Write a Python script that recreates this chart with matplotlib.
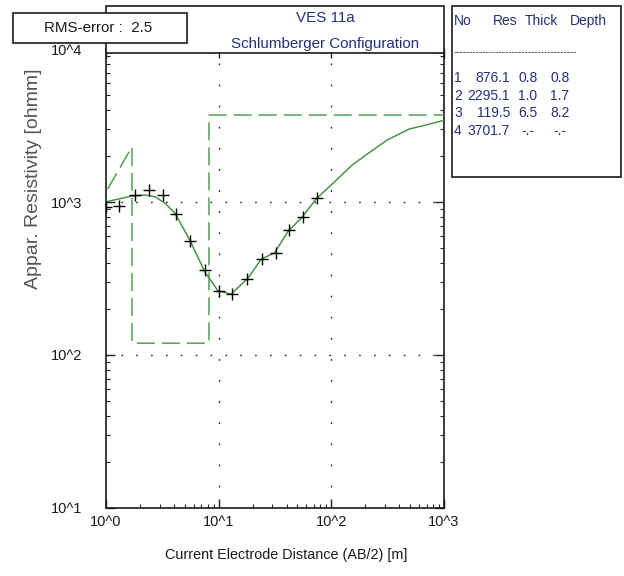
import matplotlib.pyplot as plt
import numpy as np
from matplotlib.patches import Rectangle
from matplotlib.ticker import FixedLocator, LogLocator, NullFormatter

plt.rcParams['font.family'] = ['Liberation Sans', 'DejaVu Sans']

# measured sounding (AB/2 in m, apparent resistivity in ohmm)
ab2 = [1.0, 1.3, 1.8, 2.4, 3.2, 4.2, 5.6, 7.5, 10, 13, 18, 24, 32, 42, 56, 75]
rho_obs = [927, 942, 1111, 1198, 1111, 835, 556, 360, 262, 250, 314, 424, 464, 656, 798, 1062]

# fitted curve
fit_x = [1.0, 1.38, 1.69, 2.21, 2.71, 3.33, 4.08, 5.54, 7.52, 9.85, 12.9, 18.2,
         23.9, 31.2, 41.6, 54.3, 73.2, 99.4, 153, 203, 313, 490, 638, 1000]
fit_rho = [1004, 1057, 1094, 1111, 1083, 985, 847, 565, 350, 263, 250, 318,
           424, 464, 649, 786, 1046, 1291, 1745, 2029, 2541, 3000, 3140, 3420]

# layer model
layer_no = [1, 2, 3, 4]
layer_res = [876.1, 2295.1, 119.5, 3701.7]
layer_thick = [0.8, 1.0, 6.5, None]
layer_depth = [0.8, 1.7, 8.2, None]

blue = '#24307c'
fs = 10.4
tfs = 10

fig = plt.figure(figsize=(6.24, 5.76), dpi=100)
ax = fig.add_axes([0.1699, 0.1181, 0.5417, 0.7968])
ax.set_xscale('log')
ax.set_yscale('log')
ax.set_xlim(1, 1000)
ax.set_ylim(10, 10000)

# model step line (drawn the way the program does it)
mx = [layer_depth[0], layer_depth[1], layer_depth[1], layer_depth[2], layer_depth[2], 5000]
my = [layer_res[0], layer_res[1], layer_res[2], layer_res[2], layer_res[3], layer_res[3]]
ax.plot(mx, my, color='#3f9a3f', lw=1.0, dashes=(13, 5), zorder=3)

ax.plot(fit_x, fit_rho, color='#4a944a', lw=1.1, zorder=4)
ax.plot(ab2, rho_obs, ls='none', marker='+', ms=9, mew=1.0, color='black', zorder=5)

# grid at decades only
for v in [10, 100]:
    ax.axvline(v, color='#222222', lw=1.0, ls=(0, (1.2, 14)), zorder=1)
for v in [100, 1000]:
    ax.axhline(v, color='#222222', lw=1.0, ls=(0, (1.2, 9.5)), zorder=1)

ax.xaxis.set_major_locator(FixedLocator([1, 10, 100, 1000]))
ax.set_xticklabels(['10^0', '10^1', '10^2', '10^3'])
ax.yaxis.set_major_locator(FixedLocator([10, 100, 1000, 10000]))
ax.set_yticklabels(['10^1', '10^2', '10^3', '10^4'])
ax.xaxis.set_minor_locator(LogLocator(base=10, subs=np.arange(2, 10)))
ax.yaxis.set_minor_locator(LogLocator(base=10, subs=np.arange(2, 10)))
ax.xaxis.set_minor_formatter(NullFormatter())
ax.yaxis.set_minor_formatter(NullFormatter())
ax.tick_params(which='both', direction='in', top=True, right=True, color='#222222')
ax.tick_params(which='major', length=6.5, width=1.0)
ax.tick_params(which='minor', length=3, width=0.8)
ax.tick_params(axis='x', which='major', pad=5, labelsize=10.5, labelcolor='#1a1a1a')
ax.tick_params(axis='y', which='major', pad=17, labelsize=10.5, labelcolor='#1a1a1a')
for s in ax.spines.values():
    s.set_linewidth(1.2)
    s.set_color('#1a1a1a')

fig.text(286 / 624, 1 - 555 / 576, 'Current Electrode Distance (AB/2) [m]',
         ha='center', va='center', fontsize=fs, color='#1a1a1a')
fig.text(34 / 624, 1 - 179 / 576, 'Appar. Resistivity [ohmm]', rotation=90,
         ha='center', va='center', fontsize=14, color='#555555')

# header box with title
fig.patches.append(Rectangle((106 / 624, 1 - 53 / 576), 338 / 624, 47 / 576,
                             transform=fig.transFigure, facecolor='white',
                             edgecolor='#1a1a1a', lw=1.2, zorder=10))
fig.text(325 / 624, 1 - 18 / 576, 'VES 11a', ha='center', va='center',
         fontsize=fs + 0.5, color=blue, zorder=11)
fig.text(325 / 624, 1 - 44 / 576, 'Schlumberger Configuration', ha='center', va='center',
         fontsize=fs + 0.5, color=blue, zorder=11)

# RMS box
fig.patches.append(Rectangle((13 / 624, 1 - 43 / 576), 174 / 624, 30 / 576,
                             transform=fig.transFigure, facecolor='white',
                             edgecolor='#1a1a1a', lw=1.2, zorder=12))
fig.text(98 / 624, 1 - 28 / 576, 'RMS-error :  2.5', ha='center', va='center',
         fontsize=fs + 0.5, color='#1a1a1a', zorder=13)

# layer table box
fig.patches.append(Rectangle((452 / 624, 1 - 177 / 576), 169 / 624, 171 / 576,
                             transform=fig.transFigure, facecolor='white',
                             edgecolor='#1a1a1a', lw=1.2, zorder=10))
hy = 1 - 21 / 576
fig.text(454 / 624, hy, 'No', ha='left', va='center', fontsize=tfs, color=blue, zorder=11)
fig.text(518 / 624, hy, 'Res', ha='right', va='center', fontsize=tfs, color=blue, zorder=11)
fig.text(541 / 624, hy, 'Thick', ha='center', va='center', fontsize=tfs, color=blue, zorder=11)
fig.text(588 / 624, hy, 'Depth', ha='center', va='center', fontsize=tfs, color=blue, zorder=11)
fig.text(454 / 624, 1 - 52 / 576, '-' * 38, ha='left', va='center', fontsize=7,
         color=blue, zorder=11)
for i, n in enumerate(layer_no):
    y = 1 - (78 + i * 17.7) / 576
    fig.text(454 / 624, y, str(n), ha='left', va='center', fontsize=tfs, color=blue, zorder=11)
    fig.text(510 / 624, y, f'{layer_res[i]:.1f}', ha='right', va='center',
             fontsize=tfs, color=blue, zorder=11)
    t = '-.-' if layer_thick[i] is None else f'{layer_thick[i]:.1f}'
    d = '-.-' if layer_depth[i] is None else f'{layer_depth[i]:.1f}'
    fig.text(528 / 624, y, t, ha='center', va='center', fontsize=tfs, color=blue, zorder=11)
    fig.text(560 / 624, y, d, ha='center', va='center', fontsize=tfs, color=blue, zorder=11)

fig.savefig('out.png', dpi=100)
